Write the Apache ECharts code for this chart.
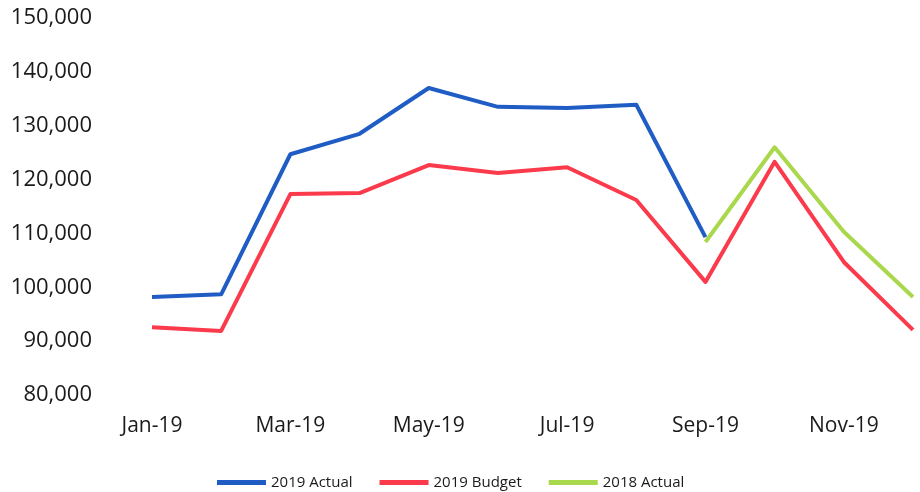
<!DOCTYPE html>
<html>
<head>
<meta charset="utf-8">
<script src="https://cdn.jsdelivr.net/npm/echarts@6/dist/echarts.min.js"></script>
<style>
  html, body { margin: 0; padding: 0; background: #fff; }
  #chart { width: 920px; height: 492px; }
</style>
</head>
<body>
<div id="chart"></div>
<script>
// categories (months)
var months = ['Jan-19', 'Feb-19', 'Mar-19', 'Apr-19', 'May-19', 'Jun-19',
  'Jul-19', 'Aug-19', 'Sep-19', 'Oct-19', 'Nov-19', 'Dec-19'];

// series values
var actual2019 = [98200, 98700, 124700, 128500, 137000, 133500, 133300, 133900, 109300, null, null, null];
var budget2019 = [92600, 91900, 117300, 117500, 122700, 121200, 122300, 116200, 101000, 123300, 104700, 92100];
var actual2018 = [null, null, null, null, null, null, null, null, 108400, 126000, 110300, 98200];

var seriesNames = ['2019 Actual', '2019 Budget', '2018 Actual'];
var colors = ['#1f5cc4', '#fb3a4c', '#a9d84c'];

var chart = echarts.init(document.getElementById('chart'));

function lineSeries(name, data, color) {
  return {
    name: name,
    type: 'line',
    data: data,
    showSymbol: false,
    symbol: 'none',
    connectNulls: false,
    lineStyle: { width: 4, color: color, join: 'round' },
    itemStyle: { color: color }
  };
}

var option = {
  animation: false,
  grid: { left: 152, right: 7, top: 18, bottom: 97 },
  legend: {
    left: 212,
    top: 470,
    icon: 'rect',
    itemWidth: 49,
    itemHeight: 5,
    itemGap: 27,
    data: seriesNames,
    textStyle: { fontFamily: 'Open Sans', fontSize: 15, color: '#1a1a1a' }
  },
  xAxis: {
    type: 'category',
    data: months,
    boundaryGap: false,
    axisLine: { show: false },
    axisTick: { show: false },
    axisLabel: {
      interval: 1,
      margin: 21,
      fontFamily: 'Open Sans',
      fontSize: 21,
      color: '#1a1a1a'
    }
  },
  yAxis: {
    type: 'value',
    min: 80000,
    max: 150000,
    interval: 10000,
    splitLine: { show: false },
    axisLine: { show: false },
    axisTick: { show: false },
    axisLabel: {
      margin: 60,
      fontFamily: 'Open Sans',
      fontSize: 22,
      color: '#1a1a1a',
      formatter: function (v) { return v.toLocaleString('en-US'); }
    }
  },
  series: [
    lineSeries(seriesNames[0], actual2019, colors[0]),
    lineSeries(seriesNames[1], budget2019, colors[1]),
    lineSeries(seriesNames[2], actual2018, colors[2])
  ]
};

chart.setOption(option);
</script>
</body>
</html>
